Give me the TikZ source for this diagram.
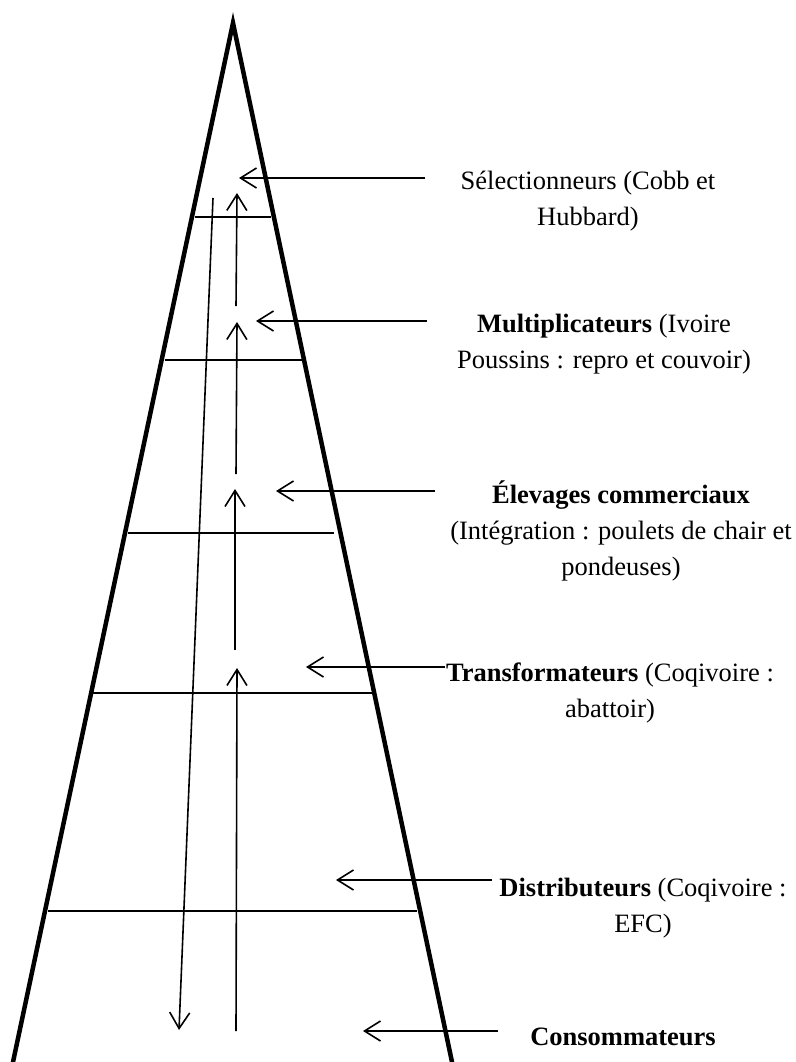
\documentclass[tikz,border=0pt]{standalone}
\usepackage{fontspec}
\setmainfont{Liberation Serif}
\usetikzlibrary{arrows.meta}
\begin{document}
\begin{tikzpicture}[x=1pt,y=-1pt,
  rung/.style={line width=1.6pt},
  frame/.style={line width=4.5pt},
  arr/.style={line width=1.6pt,-{Straight Barb[length=16pt,width=20pt,line width=1.6pt]}},
  lbl/.style={align=center,inner sep=0pt,font=\fontsize{26.5}{36}\selectfont,anchor=base}]
\useasboundingbox (0,0) rectangle (795,1062);
% pyramid frame
\coordinate (apex) at (233,23);
\coordinate (bl) at (9.2,1080);
\coordinate (br) at (455.8,1080);
\draw[frame] (bl) -- (apex) -- (br);
% rungs
\draw[rung] (195,217) -- (271,217);
\draw[rung] (165,360) -- (302,360);
\draw[rung] (128,533) -- (334,533);
\draw[rung] (93,693) -- (372,693);
\draw[rung] (48,911) -- (417,911);
% long downward arrow
\coordinate (d0) at (213,198);
\coordinate (d1) at (179,1030);
\draw[arr] (d0) -- (d1);
% upward arrows
\coordinate (a0) at (236,306); \coordinate (a1) at (237,193);
\coordinate (b0) at (236,474); \coordinate (b1) at (237,322);
\coordinate (c0) at (235,650); \coordinate (c1) at (235,489);
\coordinate (e0) at (236,1031); \coordinate (e1) at (237,668);
\draw[arr] (a0) -- (a1);
\draw[arr] (b0) -- (b1);
\draw[arr] (c0) -- (c1);
\draw[arr] (e0) -- (e1);
% labels (anchor = baseline of last line)
\node[lbl] (t1) at (588,225) {Sélectionneurs (Cobb et\\Hubbard)};
\node[lbl] (t2) at (604,368) {\textbf{Multiplicateurs} (Ivoire\\Poussins : repro et couvoir)};
\node[lbl] (t3) at (621,575) {\textbf{Élevages commerciaux}\\(Intégration : poulets de chair et\\pondeuses)};
\node[lbl] (t4) at (610,717) {\textbf{Transformateurs} (Coqivoire :\\abattoir)};
\node[lbl] (t5) at (643,932) {\textbf{Distributeurs} (Coqivoire :\\EFC)};
\node[lbl] (t6) at (623,1045) {\textbf{Consommateurs}};
% leftward arrows from labels
\coordinate (s1) at (425,178); \coordinate (p1) at (239,178);
\coordinate (s2) at (427,321); \coordinate (p2) at (256,321);
\coordinate (s3) at (435,491); \coordinate (p3) at (276,491);
\coordinate (s4) at (445,667); \coordinate (p4) at (306,667);
\coordinate (s5) at (492,880); \coordinate (p5) at (336,880);
\coordinate (s6) at (498,1031); \coordinate (p6) at (363,1031);
\draw[arr] (s1) -- (p1);
\draw[arr] (s2) -- (p2);
\draw[arr] (s3) -- (p3);
\draw[arr] (s4) -- (p4);
\draw[arr] (s5) -- (p5);
\draw[arr] (s6) -- (p6);
\end{tikzpicture}
\end{document}
